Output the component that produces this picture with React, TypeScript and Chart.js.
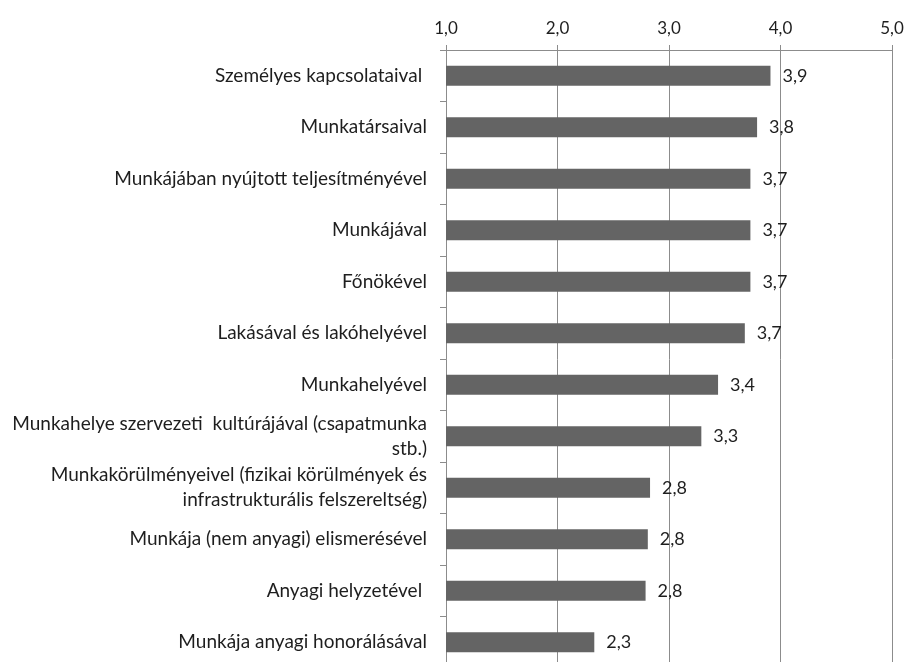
import React, { useEffect, useRef } from "react";
import { Chart, registerables } from "chart.js";

Chart.register(...registerables);

const categories: (string | string[])[] = [
  "Személyes kapcsolataival ",
  "Munkatársaival",
  "Munkájában nyújtott teljesítményével",
  "Munkájával",
  "Főnökével",
  "Lakásával és lakóhelyével",
  "Munkahelyével",
  ["Munkahelye szervezeti  kultúrájával (csapatmunka", "stb.)"],
  ["Munkakörülményeivel (fizikai körülmények és", "infrastrukturális felszereltség)"],
  "Munkája (nem anyagi) elismerésével",
  "Anyagi helyzetével ",
  "Munkája anyagi honorálásával",
];

const values: number[] = [3.91, 3.79, 3.73, 3.73, 3.73, 3.68, 3.44, 3.29, 2.83, 2.81, 2.79, 2.33];

const axisMin = 1;
const axisMax = 5;
const axisStep = 1;

const FONT = "Lato, 'Open Sans', sans-serif";

const fmt = (v: number) => v.toFixed(1).replace(".", ",");

const valueLabels = {
  id: "valueLabels",
  afterDatasetsDraw(chart: any) {
    const ctx = chart.ctx;
    const meta = chart.getDatasetMeta(0);
    ctx.save();
    ctx.font = `18px ${FONT}`;
    ctx.fillStyle = "#1e1e1e";
    ctx.textAlign = "left";
    ctx.textBaseline = "middle";
    meta.data.forEach((el: any, i: number) => {
      ctx.fillText(fmt(values[i]), el.x + 12, el.y);
    });
    ctx.restore();
  },
};

export default function App() {
  const ref = useRef<HTMLCanvasElement | null>(null);
  useEffect(() => {
    if (!ref.current) return;
    const chart = new Chart(ref.current, {
      type: "bar",
      data: {
        labels: categories,
        datasets: [
          {
            data: values,
            backgroundColor: "#646464",
            borderWidth: 0,
            categoryPercentage: 1,
            barPercentage: 0.39,
          },
        ],
      },
      options: {
        indexAxis: "y",
        responsive: false,
        animation: false,
        layout: { padding: { left: 8, right: 13, top: 0, bottom: 0 } },
        plugins: { legend: { display: false }, tooltip: { enabled: false } },
        scales: {
          x: {
            position: "top",
            min: axisMin,
            max: axisMax,
            ticks: {
              stepSize: axisStep,
              callback: (v: any) => fmt(Number(v)),
              color: "#1e1e1e",
              font: { family: FONT, size: 17 },
              padding: 6,
              maxRotation: 0,
            },
            grid: { color: "#8c8c8c", lineWidth: 1, tickLength: 5, drawTicks: true },
            border: { color: "#8c8c8c" },
            afterFit: (s: any) => {
              s.height = 42;
              s.paddingLeft = 0;
              s.paddingRight = 0;
            },
          },
          y: {
            ticks: {
              color: "#1e1e1e",
              font: { family: FONT, size: 19, lineHeight: 1.32 },
              padding: 13,
              autoSkip: false,
            },
            grid: { drawOnChartArea: false, drawTicks: true, tickLength: 6, color: "#8c8c8c", offset: true },
            border: { color: "#8c8c8c" },
            afterFit: (s: any) => {
              s.width = 438;
              s.paddingTop = 0;
              s.paddingBottom = 0;
            },
          },
        },
      },
      plugins: [valueLabels],
    });
    return () => chart.destroy();
  }, []);
  return (
    <div
      style={{
        position: "fixed",
        left: 0,
        top: 0,
        width: 905,
        height: 662,
        overflow: "hidden",
      }}
    >
      <canvas ref={ref} width={905} height={660} style={{ display: "block", marginTop: 8 }} />
    </div>
  );
}
